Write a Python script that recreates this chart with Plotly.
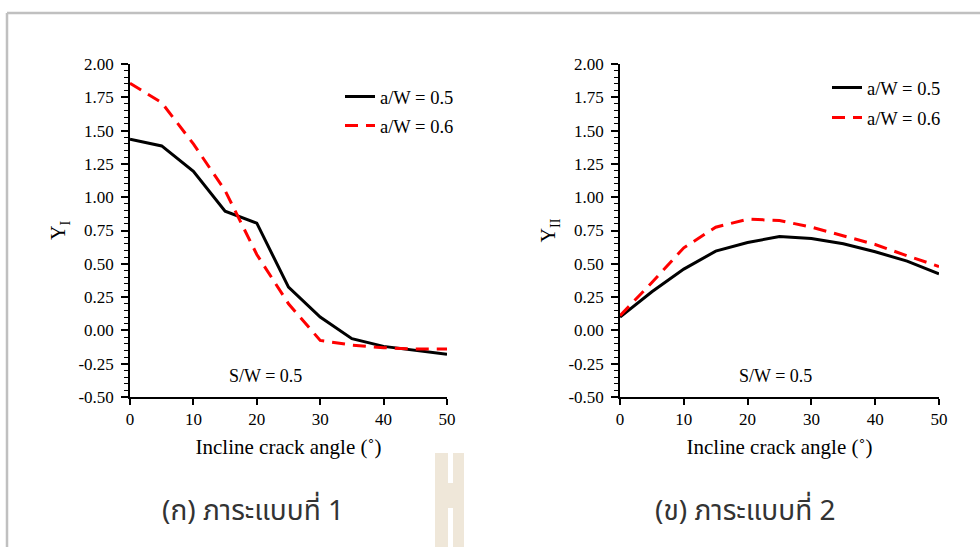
import plotly.graph_objects as go

angles = [0, 5, 10, 15, 20, 25, 30, 35, 40, 45, 50]
yI_05 = [1.435, 1.385, 1.195, 0.895, 0.805, 0.325, 0.10, -0.0625, -0.12, -0.15, -0.18]
yI_06 = [1.855, 1.71, 1.40, 1.05, 0.57, 0.20, -0.075, -0.11, -0.13, -0.14, -0.14]
yII_05 = [0.10, 0.29, 0.46, 0.595, 0.66, 0.705, 0.69, 0.65, 0.59, 0.52, 0.425]
yII_06 = [0.11, 0.36, 0.62, 0.775, 0.835, 0.825, 0.775, 0.71, 0.645, 0.56, 0.48]
series_names = ["a/W = 0.5", "a/W = 0.6"]
x_ticks = [0, 10, 20, 30, 40, 50]
y_ticks = [-0.5, -0.25, 0, 0.25, 0.5, 0.75, 1.0, 1.25, 1.5, 1.75, 2.0]
y_ticktext = ["-0.50", "-0.25", "0.00", "0.25", "0.50", "0.75", "1.00", "1.25", "1.50", "1.75", "2.00"]
x_title = "Incline crack angle (˚)"
captions = ["(ก) ภาระแบบที่ 1", "(ข) ภาระแบบที่ 2"]
note = "S/W = 0.5"

W, H = 980, 547
serif = "Liberation Serif, Times New Roman, serif"

fig = go.Figure()
solid = dict(color="black", width=3)
dashed = dict(color="#ff0000", width=3, dash="13px,8px")

fig.add_trace(go.Scatter(x=angles, y=yI_05, mode="lines", line=solid, name=series_names[0],
                         xaxis="x", yaxis="y", legend="legend"))
fig.add_trace(go.Scatter(x=angles, y=yI_06, mode="lines", line=dashed, name=series_names[1],
                         xaxis="x", yaxis="y", legend="legend2"))
fig.add_trace(go.Scatter(x=angles, y=yII_05, mode="lines", line=solid, name=series_names[0],
                         xaxis="x2", yaxis="y2", legend="legend3"))
fig.add_trace(go.Scatter(x=angles, y=yII_06, mode="lines", line=dashed, name=series_names[1],
                         xaxis="x2", yaxis="y2", legend="legend4"))

ydom = [1 - 397 / H, 1 - 64 / H]

def xax(dom):
    return dict(domain=dom, range=[0, 50], tickvals=x_ticks, ticks="outside", ticklen=6,
                tickwidth=1.5, tickcolor="black", showline=True, linecolor="black", linewidth=1.5,
                showgrid=False, zeroline=False, automargin=False,
                tickfont=dict(family=serif, size=17, color="black"),
                title=dict(text=x_title, font=dict(family=serif, size=21, color="black"), standoff=11))

def yax(anchor, title):
    return dict(domain=ydom, range=[-0.5, 2.0], tickvals=y_ticks, ticktext=y_ticktext,
                ticks="outside", ticklen=7, tickwidth=1.5, tickcolor="black", ticklabelstandoff=4,
                minor=dict(dtick=0.05, ticks="outside", ticklen=4, tickwidth=1, tickcolor="black"),
                showline=True, linecolor="black", linewidth=1.5, showgrid=False, zeroline=False,
                anchor=anchor, automargin=False, tickfont=dict(family=serif, size=17, color="black"),
                title=dict(text=title, font=dict(family=serif, size=20, color="black"), standoff=7))

xl = xax([130 / W, 447 / W])
xl["anchor"] = "y"
xr = xax([620 / W, 939 / W])
xr["anchor"] = "y2"

def leg(xpx, ypx):
    return dict(x=xpx / W, y=1 - ypx / H, xanchor="left", yanchor="middle",
                bgcolor="rgba(0,0,0,0)", font=dict(family=serif, size=18.5, color="black"),
                itemwidth=30, borderwidth=0)

fig.update_layout(
    width=W, height=H, margin=dict(l=0, r=0, t=0, b=0, pad=0, autoexpand=False),
    autosize=False,
    paper_bgcolor="white", plot_bgcolor="white", showlegend=True,
    xaxis=xl, xaxis2=xr,
    yaxis=yax("x", "Y<sub>I</sub>"), yaxis2=yax("x2", "Y<sub>II</sub>"),
    legend=leg(340, 97), legend2=leg(340, 126),
    legend3=leg(827, 88), legend4=leg(827, 118),
)

for xc in [265, 775]:
    fig.add_annotation(x=xc / W, y=1 - 376 / H, xref="paper", yref="paper", text=note,
                       xanchor="center", yanchor="middle",
                       showarrow=False, font=dict(family=serif, size=18, color="black"))

for xc, cap in zip([253, 745], captions):
    fig.add_annotation(x=xc / W, y=1 - 511 / H, xref="paper", yref="paper", text=cap,
                       xanchor="center", yanchor="middle",
                       showarrow=False, font=dict(family="Noto Sans Thai, Tahoma, Noto Sans, sans-serif",
                                                   size=28, color="#333333"))

def px(x):
    return x / W
def py(y):
    return 1 - y / H
fig.add_shape(type="line", xref="paper", yref="paper", x0=px(7), x1=1, y0=py(13), y1=py(13),
              line=dict(color="#c0c0c0", width=2.5))
fig.add_shape(type="line", xref="paper", yref="paper", x0=px(7), x1=px(7), y0=py(13), y1=0,
              line=dict(color="#c0c0c0", width=2.5))

wm = "#efe7d9"
for (x0, x1, y0, y1) in [(435, 448, 453, 547), (453, 464, 453, 547), (448, 453, 483, 508)]:
    fig.add_shape(type="rect", xref="paper", yref="paper", x0=px(x0), x1=px(x1), y0=py(y1), y1=py(y0),
                  line=dict(width=0), fillcolor=wm, layer="below")

fig.write_html("out.html", config={"displayModeBar": False, "responsive": False},
               post_script="document.body.style.margin='0';document.body.style.overflow='hidden';")
